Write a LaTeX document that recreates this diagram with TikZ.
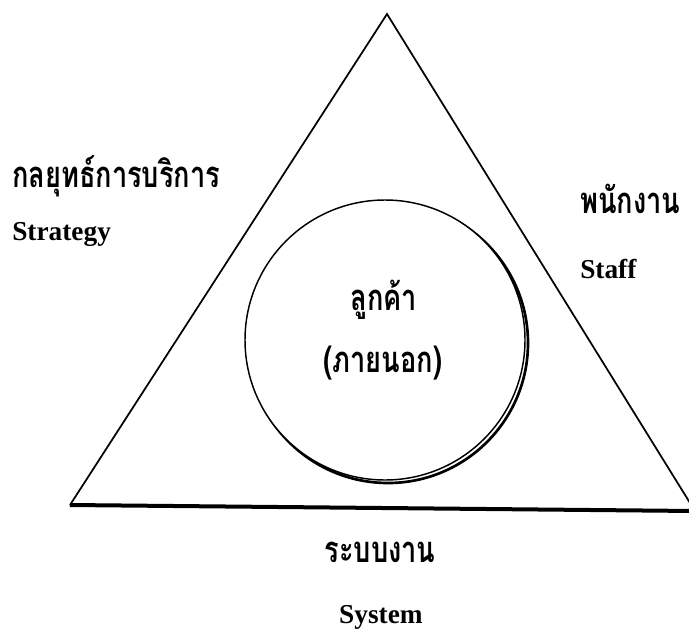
\documentclass[tikz,border=0pt]{standalone}
\usepackage{fontspec}
\usepackage{graphicx}
\setmainfont{Liberation Serif}
\newfontfamily\thaifont[Script=Thai]{Loma}
\newcommand{\tall}[1]{\scalebox{0.97}[1.3]{#1}}
\begin{document}
\begin{tikzpicture}[x=0.75pt,y=-0.75pt,
    thai/.style={font=\thaifont\bfseries\fontsize{21}{25}\selectfont,inner sep=0pt},
    eng/.style={font=\bfseries\fontsize{20.5}{24}\selectfont,inner sep=0pt}]
    \useasboundingbox (0,0) rectangle (689,632);
    \clip (0,0) rectangle (689,632);
    % triangle
    \coordinate (apex) at (387,14);
    \coordinate (bl) at (70,505);
    \coordinate (br) at (695,511);
    \draw[line width=1.3pt] (bl)--(apex)--(br);
    \draw[line width=3pt] (bl)--(br);
    % customer circle with its shadow
    \draw[line width=2pt] (388,343) circle [radius=140];
    \draw[line width=1.1pt,fill=white] (385,340) circle [radius=140];
    \node[thai,anchor=base] (cust) at (384,310) {\tall{ลูกค้า}};
    \node[thai,anchor=base] (ext) at (383,372) {\tall{(ภายนอก)}};
    % the three corners
    \node[thai,anchor=base west] (strat) at (12,187) {\tall{กลยุทธ์การบริการ}};
    \node[eng,anchor=base west] (strat en) at (12,240) {Strategy};
    \node[thai,anchor=base west] (staff) at (580,213) {\tall{พนักงาน}};
    \node[eng,anchor=base west] (staff en) at (580,278) {Staff};
    \node[thai,anchor=base] (sys) at (380,562) {\tall{ระบบงาน}};
    \node[eng,anchor=base] (sys en) at (381,623) {System};
\end{tikzpicture}
\end{document}
